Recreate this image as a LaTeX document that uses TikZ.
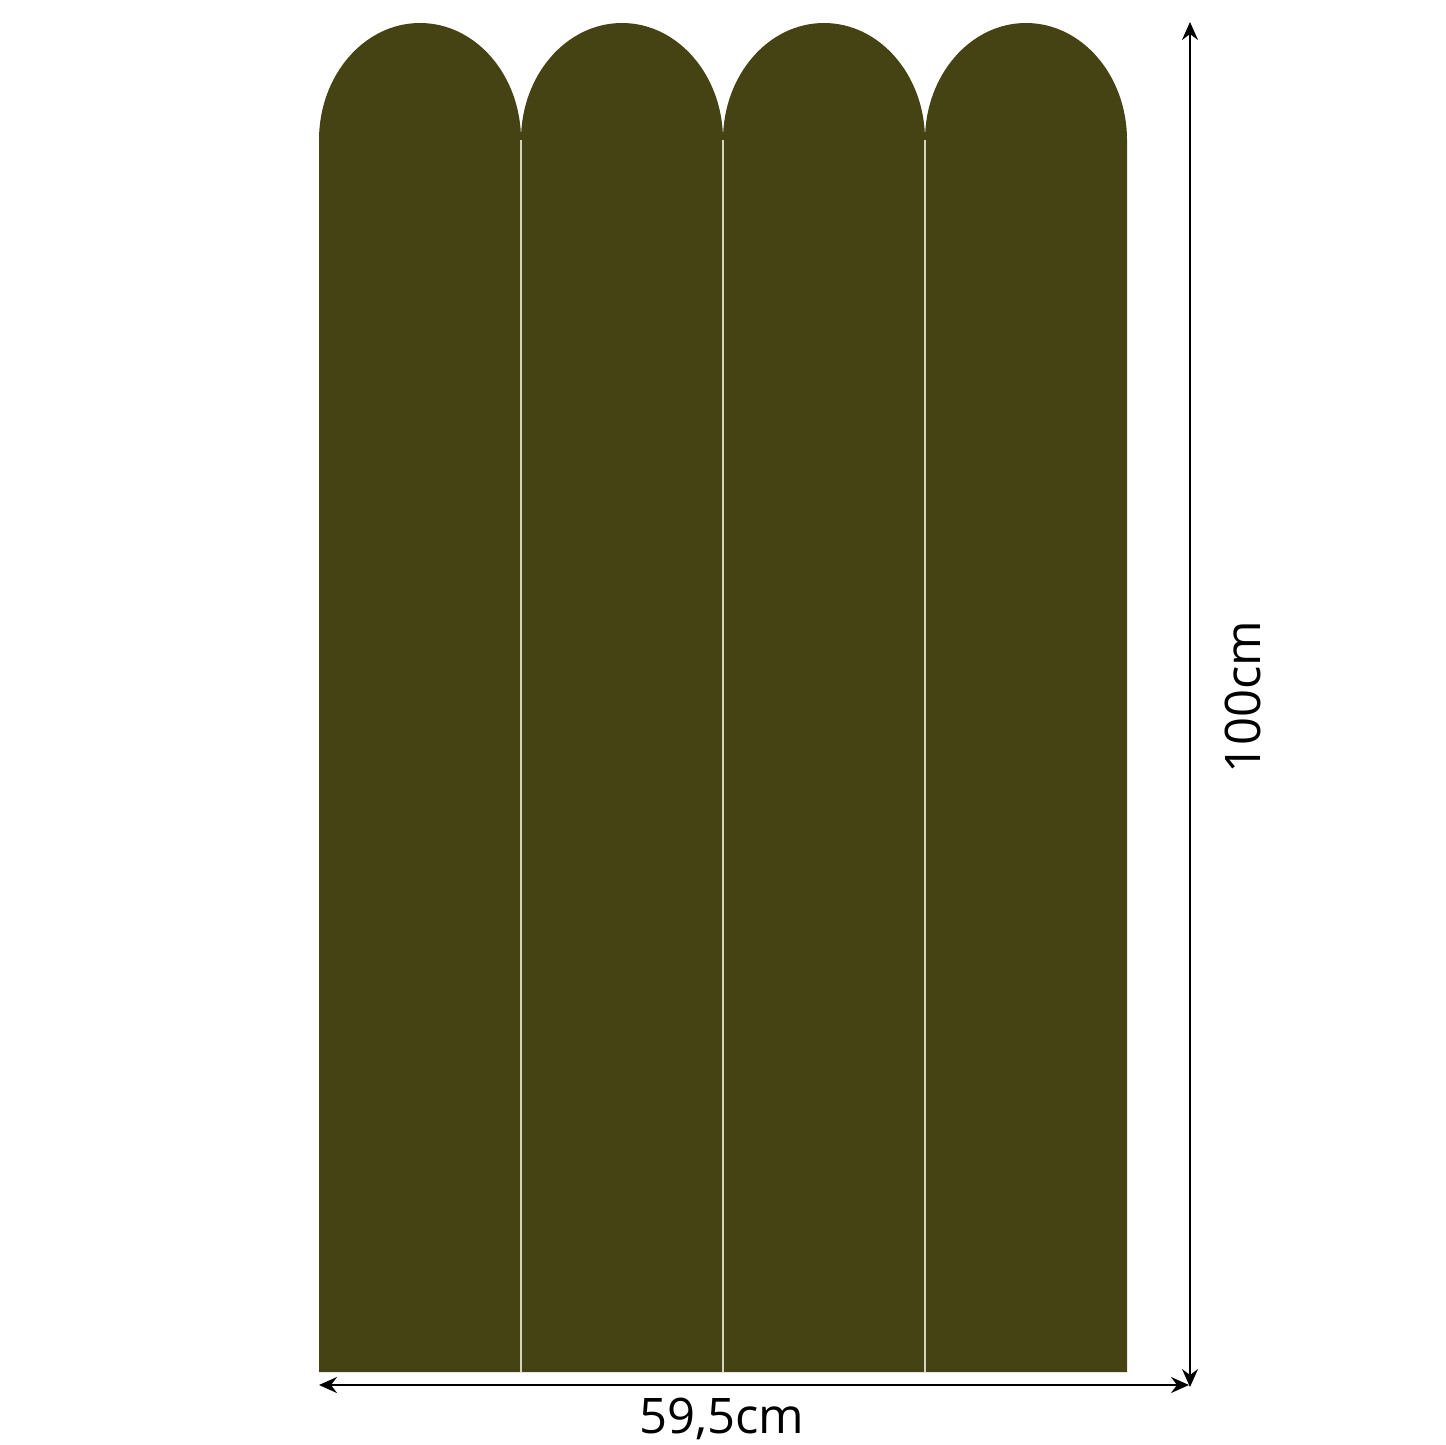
\documentclass[tikz,border=0pt]{standalone}
\usepackage{fontspec}
\setmainfont{Open Sans}
\usetikzlibrary{arrows.meta}
\definecolor{olive}{RGB}{69,67,19}
\definecolor{seam}{RGB}{215,210,190}
\tikzset{
  strip/.style={fill=olive, draw=none},
  seamline/.style={draw=seam, line width=0.8pt},
  dim/.style={draw=black, line width=1.2pt, arrows={Stealth[length=9pt,width=8pt,inset=3pt]-Stealth[length=9pt,width=8pt,inset=3pt]}},
  dimlabel/.style={font=\fontsize{24.5}{28}\selectfont, inner sep=0pt}
}
\begin{document}
\begin{tikzpicture}[x=0.5pt,y=-0.5pt]
\useasboundingbox (0,0) rectangle (1445,1445);
\foreach \i in {0,1,2,3}{
  \pgfmathsetmacro{\xl}{319+202*\i}
  \pgfmathsetmacro{\xr}{\xl+202}
  \fill[strip] (\xl,1372) -- (\xl,140) arc[start angle=180,end angle=360,x radius=101,y radius=117] -- (\xr,1372) -- cycle;
}
\foreach \i in {1,2,3}{
  \pgfmathsetmacro{\xs}{319+202*\i}
  \draw[seamline] (\xs,1372) -- (\xs,140);
}
\coordinate (hl) at (319,1385);
\coordinate (hr) at (1189,1385);
\coordinate (vb) at (1190,1387);
\coordinate (vt) at (1190,22);
\draw[dim] (hl) -- (hr);
\draw[dim] (vb) -- (vt);
\node[dimlabel] (wlabel) at (722,1419) {59,5cm};
\node[dimlabel, rotate=90] (hlabel) at (1243,697) {100cm};
\end{tikzpicture}
\end{document}
